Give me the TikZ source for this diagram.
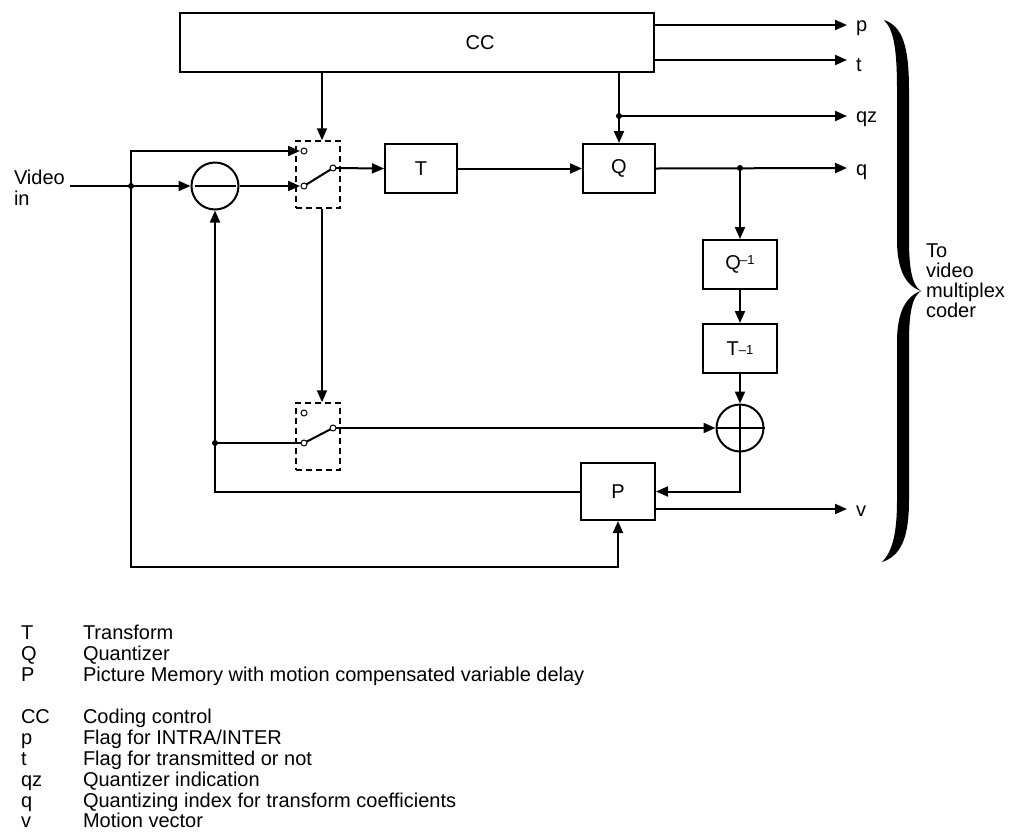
\documentclass[tikz,border=0pt]{standalone}
\usepackage{fontspec}
\setmainfont{Liberation Sans}
\usetikzlibrary{arrows.meta}
\begin{document}
\begin{tikzpicture}[x=1pt,y=-1pt, line width=2pt,
  >={Triangle[length=12pt,width=10pt]},
  txt/.style={font=\fontsize{20}{21}\selectfont, inner sep=0pt, anchor=base west},
  blk/.style={draw, rectangle, inner sep=0pt, font=\fontsize{20}{21}\selectfont},
  sumc/.style={draw, circle, inner sep=0pt, minimum size=47pt},
  swbox/.style={draw, rectangle, dash pattern=on 6pt off 4pt, line width=1.5pt, inner sep=0pt, minimum width=44pt, minimum height=67pt},
  contact/.style={draw, fill=white, line width=1pt},
  dot/.style={fill=black}]
\useasboundingbox (0,0) rectangle (1010,831);

% blocks
\node[blk, minimum width=474pt, minimum height=59pt] (CC) at (417,42.5) {};
\node[font=\fontsize{20}{21}\selectfont, inner sep=0pt] (cclabel) at (480,42.5) {CC};
\node[blk, minimum width=72pt, minimum height=49pt] (T) at (421,168.5) {T};
\node[blk, minimum width=72pt, minimum height=49pt] (Q) at (619,168.5) {Q};
\node[blk, minimum width=74pt, minimum height=49pt] (Qi) at (740,264.5) {Q\raisebox{5pt}{\fontsize{13}{13}\selectfont\kern-1pt –1}};
\node[blk, minimum width=74pt, minimum height=49pt] (Ti) at (740,348.5) {T\raisebox{1pt}{\fontsize{13}{13}\selectfont –1}};
\node[blk, minimum width=74pt, minimum height=57pt] (P) at (618,491.5) {P};
\node[sumc] (sub) at (215,186) {};
\node[sumc] (add) at (740,428) {};
\draw ([xshift=4pt]sub.west) -- ([xshift=-4pt]sub.east);
\node[swbox] (sw1) at (318,174.5) {};
\node[swbox] (sw2) at (318,436.5) {};

% coordinates
\coordinate (vin) at (70,186);
\coordinate (j1) at (131,186);
\coordinate (j2) at (215,443);
\coordinate (jqz) at (619,116);
\coordinate (jq) at (740,168);
\coordinate (c1) at (322,0);
\coordinate (a1) at (304,151);
\coordinate (b1) at (304,186);
\coordinate (o1) at (333,168);
\coordinate (a2) at (304,413);
\coordinate (b2) at (304,443);
\coordinate (o2) at (333,428);
\coordinate (a1in) at (300,151);
\coordinate (b1in) at (300,186);
\coordinate (outp) at (847,25);
\coordinate (outt) at (847,60);
\coordinate (outqz) at (847,116);
\coordinate (outq) at (847,168);
\coordinate (outv) at (847,509);
\coordinate (bl) at (131,567);

% connectors
\draw (vin) -- (j1);
\draw[->] (j1) -- (sub.west);
\draw[->] (j1) |- (a1in);
\draw[->] (sub.east) -- (b1in);
\draw (b1) -- (o1);
\draw[->] (o1) -- (T.west);
\draw[->] (T.east) -- (Q.west);
\draw[->] (Q.east) -- (outq);
\draw[->] (jq) -- (Qi.north);
\draw[->] (Qi.south) -- (Ti.north);
\draw[->] (Ti.south) -- (add.north);
\draw[->] (add.south) |- (P.east);
\draw[->] ([yshift=-17.5pt]P.east) -- (outv);
\draw[->] (P.west) -| (sub.south);
\draw (j2) -- (b2);
\draw (b2) -- (o2);
\draw[->] (o2) -- (add.west);
\draw[->] (j1) -- (bl) -| (P.south);
\draw[->] (CC.south -| c1) -- (sw1.north -| c1);
\draw[->] (sw1.south -| c1) -- (sw2.north -| c1);
\draw[->] (CC.south -| Q) -- (Q.north);
\draw[->] (jqz) -- (outqz);
\draw[->] ([yshift=17.5pt]CC.east) -- (outp);
\draw[->] ([yshift=-17.5pt]CC.east) -- (outt);

% plus sign
\draw (add.west) -- (add.east);
\draw (add.north) -- (add.south);

% junction dots
\fill[dot] (j1) circle (3pt);
\fill[dot] (j2) circle (3pt);
\fill[dot] (jqz) circle (3pt);
\fill[dot] (jq) circle (3pt);

% contacts
\foreach \c in {a1,b1,o1,a2,b2,o2} \draw[contact] (\c) circle (3pt);

% brace
\fill (884,20) .. controls (902,26) and (909,45) .. (909,90) -- (909,240)
  .. controls (909,272) and (913,286) .. (921,291)
  .. controls (906,286) and (897,270) .. (897,240) -- (897,90)
  .. controls (897,50) and (894,30) .. (884,20) -- cycle;
\fill (921,291) .. controls (913,296) and (909,310) .. (909,342) -- (909,500)
  .. controls (909,540) and (900,556) .. (882,562)
  .. controls (892,552) and (897,535) .. (897,500) -- (897,342)
  .. controls (897,312) and (906,296) .. (921,291) -- cycle;

% labels
\node[txt] (lvid) at (13,184) {Video};
\node[txt] (lin) at (13,205) {in};
\node[txt] (lp) at (855,31) {p};
\node[txt] (lt) at (855,71) {t};
\node[txt] (lqz) at (855,122) {qz};
\node[txt] (lq) at (855,175) {q};
\node[txt] (lv) at (855,516) {v};
\node[txt] (to1) at (925,257) {To};
\node[txt] (to2) at (925,277) {video};
\node[txt] (to3) at (925,297) {multiplex};
\node[txt] (to4) at (925,317) {coder};

% legend
\foreach \k/\d/\y [count=\i] in {T/Transform/639, Q/Quantizer/660, P/{Picture Memory with motion compensated variable delay}/681,
  CC/{Coding control}/723, p/{Flag for INTRA/INTER}/744, t/{Flag for transmitted or not}/765,
  qz/{Quantizer indication}/786, q/{Quantizing index for transform coefficients}/807, v/{Motion vector}/827}
{
  \node[txt] (lk\i) at (20,\y) {\k};
  \node[txt] (ld\i) at (82,\y) {\d};
}
\end{tikzpicture}
\end{document}
